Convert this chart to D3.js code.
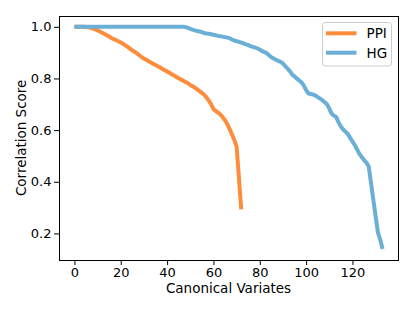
<!DOCTYPE html>
<html><head><meta charset="utf-8">
<script src="https://cdn.jsdelivr.net/npm/d3@7"></script>
<style>body{margin:0;background:#fff}svg{display:block}</style>
</head><body>
<script>
const ppiValues = [1.0,1.0,1.0,1.0,1.0,0.999,0.998,0.996,0.993,0.990,
0.986,0.982,0.977,0.972,0.967,0.962,0.957,0.952,0.948,0.944,
0.939,0.934,0.928,0.922,0.915,0.909,0.903,0.897,0.890,0.883,
0.877,0.872,0.867,0.862,0.857,0.852,0.847,0.842,0.837,0.832,
0.827,0.822,0.816,0.811,0.806,0.801,0.796,0.791,0.786,0.781,
0.775,0.770,0.764,0.758,0.751,0.744,0.737,0.727,0.714,0.700,
0.682,0.674,0.668,0.660,0.650,0.638,0.623,0.604,0.584,0.562,
0.537,0.415,0.293];
const hgValues = [1.0,1.0,1.0,1.0,1.0,1.0,1.0,1.0,1.0,1.0,
1.0,1.0,1.0,1.0,1.0,1.0,1.0,1.0,1.0,1.0,
1.0,1.0,1.0,1.0,1.0,1.0,1.0,1.0,1.0,1.0,
1.0,1.0,1.0,1.0,1.0,1.0,1.0,1.0,1.0,1.0,
1.0,1.0,1.0,1.0,1.0,1.0,1.0,1.0,0.999,0.996,
0.992,0.989,0.986,0.984,0.982,0.979,0.976,0.974,0.973,0.971,
0.969,0.967,0.965,0.963,0.962,0.960,0.958,0.956,0.951,0.947,
0.944,0.942,0.939,0.936,0.932,0.929,0.925,0.922,0.920,0.916,
0.912,0.906,0.902,0.898,0.890,0.882,0.877,0.872,0.868,0.864,
0.858,0.848,0.838,0.828,0.815,0.808,0.800,0.792,0.785,0.772,
0.755,0.742,0.740,0.738,0.734,0.728,0.722,0.716,0.708,0.700,
0.683,0.664,0.656,0.650,0.630,0.614,0.602,0.594,0.585,0.570,
0.556,0.542,0.525,0.508,0.496,0.484,0.474,0.460,0.395,0.330,
0.265,0.203,0.175,0.140];
const xTicks = [0,20,40,60,80,100,120];
const yTicks = [0.2,0.4,0.6,0.8,1.0];
const seriesNames = ["PPI","HG"];
const seriesColors = ["#fd8d3c","#6baed6"];
const xLabel = "Canonical Variates";
const yLabel = "Correlation Score";

const W=415,H=311;
const m={left:59,right:398,top:15.7,bottom:260};
const svg=d3.select("body").append("svg").attr("width",W).attr("height",H)
  .style("font-family","'DejaVu Sans', sans-serif");
const n=hgValues.length-1;
const pad=n*0.05;
const x=d3.scaleLinear().domain([-pad,n+pad]).range([m.left,m.right]);
const all=ppiValues.concat(hgValues);
const ymin=d3.min(all), ymax=d3.max(all), yp=(ymax-ymin)*0.05;
const y=d3.scaleLinear().domain([ymin-yp,ymax+yp]).range([m.bottom,m.top]);

const fs=13.5, tfs=13;
const xAxis=svg.append("g").attr("transform",`translate(0,${m.bottom})`)
  .call(d3.axisBottom(x).tickValues(xTicks).tickFormat(d3.format("d")).tickSize(5).tickPadding(3));
const yAxis=svg.append("g").attr("transform",`translate(${m.left},0)`)
  .call(d3.axisLeft(y).tickValues(yTicks).tickFormat(d3.format(".1f")).tickSize(5).tickPadding(2.5));
[xAxis,yAxis].forEach(a=>{
  a.select(".domain").remove();
  a.selectAll("text").attr("font-size",tfs).attr("fill","#000").style("font-family","'DejaVu Sans', sans-serif");
  a.selectAll("line").attr("stroke","#000").attr("stroke-width",1);
});

const line=d3.line().x((d,i)=>x(i)).y(d=>y(d));
svg.append("defs").append("clipPath").attr("id","c").append("rect")
  .attr("x",m.left).attr("y",m.top).attr("width",m.right-m.left).attr("height",m.bottom-m.top);
[ppiValues,hgValues].forEach((vals,k)=>{
  svg.append("path").datum(vals).attr("d",line).attr("fill","none")
    .attr("stroke",seriesColors[k]).attr("stroke-width",4).attr("stroke-linejoin","round")
    .attr("stroke-linecap","butt").attr("clip-path","url(#c)");
});

svg.append("rect").attr("x",Math.round(m.left)+0.5).attr("y",Math.round(m.top)+0.5)
  .attr("width",Math.round(m.right)-Math.round(m.left)).attr("height",Math.round(m.bottom)-Math.round(m.top))
  .attr("fill","none").attr("stroke","#000").attr("stroke-width",1);

// legend
const lg=svg.append("g");
lg.append("rect").attr("x",322.5).attr("y",22.5).attr("width",69).attr("height",43.5).attr("rx",3)
  .attr("fill","#fff").attr("fill-opacity",0.8).attr("stroke","#ccc").attr("stroke-width",1);
const legY=[33.3,52.7];
seriesNames.forEach((nm,k)=>{
  lg.append("line").attr("x1",326).attr("x2",356.5).attr("y1",legY[k]).attr("y2",legY[k])
    .attr("stroke",seriesColors[k]).attr("stroke-width",4);
  lg.append("text").attr("x",366.5).attr("y",legY[k]).attr("dy","0.36em").attr("font-size",fs).text(nm);
});

svg.append("text").attr("x",(m.left+m.right)/2).attr("y",293).attr("text-anchor","middle")
  .attr("font-size",fs).text(xLabel);
svg.append("text").attr("transform",`translate(26,${(m.top+m.bottom)/2}) rotate(-90)`)
  .attr("text-anchor","middle").attr("font-size",fs).text(yLabel);
</script>
</body></html>
